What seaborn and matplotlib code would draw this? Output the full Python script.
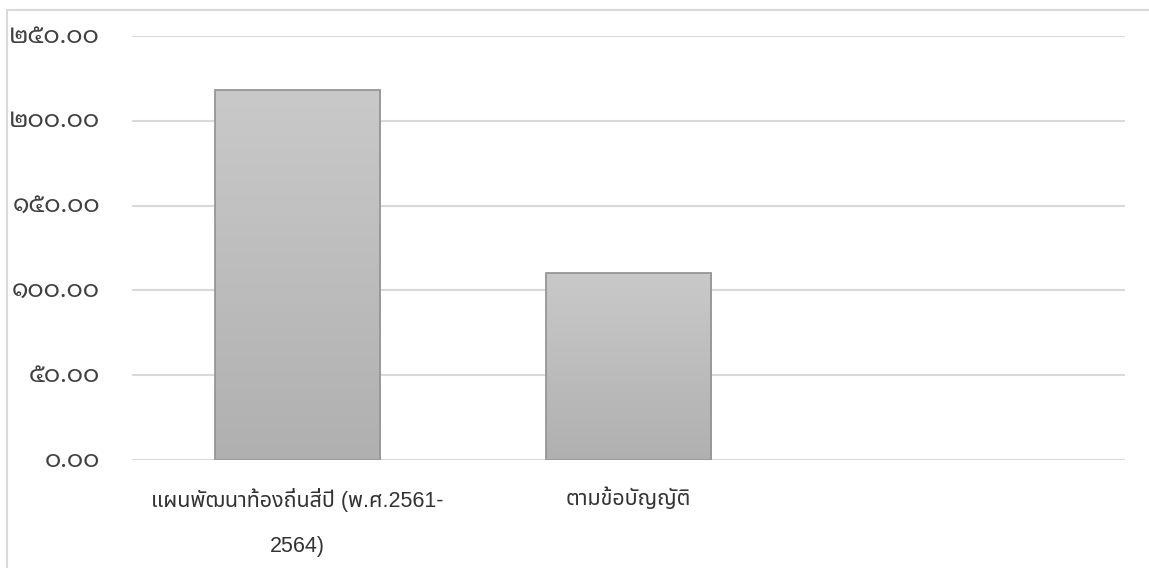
import numpy as np
import pandas as pd
import matplotlib
matplotlib.use("Agg")
import matplotlib.pyplot as plt
import matplotlib.transforms as mtransforms
import seaborn as sns
from matplotlib.patches import Rectangle

# data
categories = ["แผนพัฒนาท้องถิ่นสี่ปี (พ.ศ.2561-\n2564)", "ตามข้อบัญญัติ", " "]
values = [218.0, 110.0, np.nan]
yticks = [0, 50, 100, 150, 200, 250]

thai_digits = str.maketrans("0123456789", "๐๑๒๓๔๕๖๗๘๙")

def thai_label(v):
    return ("%.2f" % v).translate(thai_digits)

df = pd.DataFrame({"category": categories, "value": values})

sns.set_style("white")
plt.rcParams["font.family"] = ["Liberation Sans", "Noto Sans Thai", "DejaVu Sans"]

fig = plt.figure(figsize=(11.49, 5.68), dpi=100)
ax = fig.add_axes([0.1149, 0.19, 0.979 - 0.1149, 0.9366 - 0.19])

sns.barplot(data=df, x="category", y="value", order=categories, color="#bdbdbd",
            width=0.5, edgecolor="#969696", linewidth=1.3, ax=ax, zorder=3)

# vertical grey gradient inside each bar (lighter at the top)
grad = np.linspace(0, 1, 256).reshape(-1, 1)
cmap = matplotlib.colors.LinearSegmentedColormap.from_list("g", ["#c9c9c9", "#b0b0b0"])
for p in ax.patches:
    if np.isnan(p.get_height()) or p.get_height() == 0:
        continue
    x0, y0 = p.get_x(), p.get_y()
    w, h = p.get_width(), p.get_height()
    im = ax.imshow(grad, cmap=cmap, aspect="auto", extent=(x0, x0 + w, y0, y0 + h),
                   origin="upper", zorder=3.5)
    im.set_clip_path(p)
    p.set_facecolor("none")
    p.set_zorder(4)

ax.set_xlim(-0.5, 2.5)
ax.set_ylim(0, 250)
ax.set_yticks(yticks)
ax.set_yticklabels([thai_label(v) for v in yticks], family=["Noto Sans Thai Looped", "DejaVu Sans"],
                   fontsize=18, color="#404040", fontweight="light")
shift = mtransforms.ScaledTranslation(0, -3 / 100, fig.dpi_scale_trans)
for lab in ax.get_yticklabels():
    lab.set_verticalalignment("center")
    lab.set_transform(lab.get_transform() + shift)
ax.yaxis.grid(True, color="#d9d9d9", linewidth=1.5, zorder=0)
ax.set_axisbelow(True)
ax.tick_params(axis="y", length=0, pad=23)
ax.tick_params(axis="x", length=0, pad=20)
for lab in ax.get_xticklabels():
    lab.set_fontsize(15.5)
    lab.set_color("#333333")
    lab.set_linespacing(2.5)
    lab.set_verticalalignment("top")
for s in ax.spines.values():
    s.set_visible(False)
ax.set_xlabel("")
ax.set_ylabel("")

# chart area border (top and left visible)
fig.add_artist(Rectangle((7 / 1149, -0.1), 1.2, 1.1 - 10 / 568, transform=fig.transFigure,
                         fill=False, edgecolor="#d9d9d9", linewidth=1.5))

fig.savefig("out.png", dpi=100)
